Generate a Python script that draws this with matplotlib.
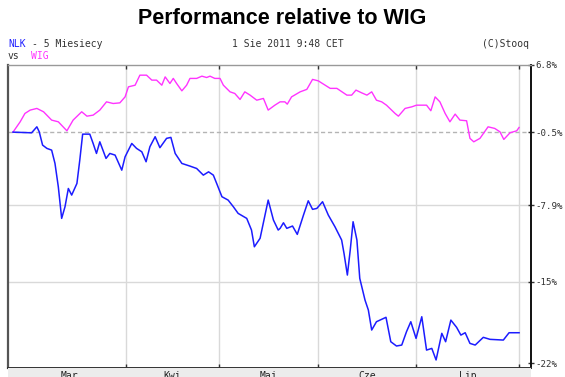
import numpy as np
import matplotlib.pyplot as plt

# relative performance (%) vs trading day since start of window
wig_day = [0.0, 1.5, 2.5, 3.6, 5.0, 6.4, 8.1, 9.5, 11.3, 12.6,
           14.4, 15.5, 16.8, 18.2, 19.6, 21.0, 22.4, 23.5, 24.2, 25.6,
           26.6, 28.0, 29.1, 30.1, 31.2, 31.9, 32.9, 33.6, 34.3, 35.4,
           36.4, 37.1, 38.5, 39.6, 40.6, 41.3, 42.3, 43.4, 44.1, 45.5,
           46.5, 47.6, 48.6, 49.7, 51.1, 52.5, 53.5, 54.9, 56.0, 57.0,
           57.5, 58.4, 60.2, 61.6, 62.8, 64.0, 66.5, 67.9, 70.0, 71.0,
           71.9, 73.1, 74.2, 75.2, 76.2, 77.3, 78.3, 80.1, 80.8, 82.2,
           83.6, 84.6, 86.7, 87.6, 88.5, 89.5, 90.6, 91.6, 92.7, 93.7,
           95.1, 95.8, 96.6, 97.9, 99.6, 101.0, 102.1, 102.9, 104.2, 105.6,
           106.1]
wig_rel = [-0.5, 0.59, 1.48, 1.84, 2.02, 1.66, 0.77, 0.59, -0.36, 0.77,
           1.66, 1.19, 1.30, 1.84, 2.73, 2.55, 2.62, 3.27, 4.37, 4.55,
           5.66, 5.66, 5.11, 5.11, 4.55, 5.47, 4.74, 5.30, 4.74, 3.93,
           4.55, 5.30, 5.30, 5.55, 5.40, 5.55, 5.30, 5.30, 4.55, 3.82,
           3.64, 2.99, 3.82, 3.46, 2.91, 3.10, 1.84, 2.37, 2.73, 2.73,
           2.48, 3.27, 3.82, 4.09, 5.19, 5.03, 4.20, 4.20, 3.46, 3.46,
           4.01, 3.71, 3.46, 3.82, 2.91, 2.73, 2.37, 1.48, 1.19, 2.02,
           2.19, 2.37, 2.37, 1.77, 3.27, 2.73, 1.48, 0.59, 1.41, 0.77,
           0.70, -1.15, -1.51, -1.15, 0.06, -0.11, -0.47, -1.26, -0.57, -0.36,
           -0.01]

nlk_day = [0.0, 3.9, 5.0, 5.5, 6.2, 7.1, 8.1, 8.8, 9.5, 10.2,
           10.9, 11.6, 12.3, 13.4, 14.0, 14.6, 16.1, 16.8, 17.5, 18.2,
           19.5, 20.3, 21.4, 22.8, 23.5, 24.9, 25.9, 27.0, 27.9, 28.7,
           29.8, 30.8, 32.2, 33.1, 34.0, 35.4, 37.1, 38.5, 39.9, 41.0,
           42.0, 42.7, 43.8, 45.1, 46.2, 47.2, 49.0, 50.0, 50.6, 51.8,
           53.5, 54.6, 55.6, 56.0, 56.7, 57.4, 58.6, 59.6, 60.9, 61.9,
           62.8, 63.7, 64.9, 66.1, 67.5, 68.9, 69.4, 70.1, 70.7, 71.3,
           72.1, 72.7, 73.8, 74.5, 75.2, 76.2, 78.2, 79.2, 80.4, 81.5,
           82.5, 83.4, 84.5, 85.7, 86.7, 87.8, 88.7, 89.9, 90.7, 91.8,
           93.0, 93.9, 94.8, 95.8, 96.9, 98.6, 100.0, 102.8, 104.0, 106.1]
nlk_rel = [-0.5, -0.57, 0.06, -0.47, -1.85, -2.19, -2.37, -3.73, -6.08, -9.15,
           -8.03, -6.24, -6.89, -5.74, -3.39, -0.71, -0.71, -1.68, -2.71, -1.51,
           -3.22, -2.71, -2.88, -4.41, -3.05, -1.68, -2.19, -2.54, -3.56, -2.02,
           -0.98, -2.12, -1.15, -1.05, -2.71, -3.73, -4.00, -4.24, -4.91, -4.58,
           -4.91, -5.74, -7.05, -7.38, -8.03, -8.67, -9.15, -10.26, -11.83, -11.04,
           -7.38, -9.31, -10.26, -10.10, -9.57, -10.10, -9.88, -10.67, -8.83, -7.45,
           -8.28, -8.19, -7.54, -8.83, -9.95, -11.20, -12.45, -14.42, -12.14, -9.47,
           -11.20, -14.72, -16.65, -17.52, -19.24, -18.53, -18.15, -20.23, -20.59, -20.51,
           -19.38, -18.53, -19.95, -18.10, -20.93, -20.79, -21.75, -19.52, -20.23, -18.39,
           -19.01, -19.67, -19.47, -20.37, -20.51, -19.86, -20.03, -20.09, -19.47, -19.47]

month_starts = [23.7, 43.2, 63.9, 84.5, 106.1]
month_names = ['Mar', 'Kwi', 'Maj', 'Cze', 'Lip']
y_ticks = [6.8, -0.5, -7.9, -15, -22]
y_labels = ['6.8%', '-0.5%', '-7.9%', '-15%', '-22%']

W, H = 565, 377
MONO = 'DejaVu Sans Mono'
FS = 7.0
x_lim = (-1.05, 108.6)

fig = plt.figure(figsize=(W / 100, H / 100), dpi=100)
fig.patch.set_facecolor('white')

# title and stooq header
fig.text(0.5, 1 - 19 / H, 'Performance relative to WIG', ha='center', va='center',
         fontsize=15.5, fontweight='bold', family='Liberation Sans', color='black')
fig.text(8 / W, 1 - 44 / H, 'NLK', ha='left', va='center', fontsize=FS,
         family=MONO, color='#2020ff')
fig.text(32 / W, 1 - 44 / H, '- 5 Miesiecy', ha='left', va='center', fontsize=FS,
         family=MONO, color='#333333')
fig.text(232 / W, 1 - 44 / H, '1 Sie 2011 9:48 CET', ha='left', va='center',
         fontsize=FS, family=MONO, color='#333333')
fig.text(482 / W, 1 - 44 / H, '(C)Stooq', ha='left', va='center', fontsize=FS,
         family=MONO, color='#333333')
fig.text(8 / W, 1 - 56 / H, 'vs', ha='left', va='center', fontsize=FS,
         family=MONO, color='#333333')
fig.text(31 / W, 1 - 56 / H, 'WIG', ha='left', va='center', fontsize=FS,
         family=MONO, color='#ff33ff')

ax = fig.add_axes([8 / W, 1 - 368 / H, 523 / W, 303 / H])

# log-return scale, the way stooq draws relative charts
ax.set_yscale('function', functions=(lambda p: np.log1p(np.asarray(p) / 100),
                                     lambda l: np.expm1(np.asarray(l)) * 100))

for m in month_starts:
    ax.axvline(m, color='#d9d9d9', lw=1, zorder=0)
for v in (-7.9, -15):
    ax.axhline(v, color='#d9d9d9', lw=1, zorder=0)
ax.axhline(-0.5, color='#b4b4b4', lw=1, ls=(0, (3, 2)), zorder=0)

ax.plot(wig_day, wig_rel, color='#ff33ff', lw=1.0, zorder=3)
ax.plot(nlk_day, nlk_rel, color='#1c1cff', lw=1.1, zorder=4)

ax.set_xlim(*x_lim)
ax.set_ylim(-22.41, 6.78)

ax.set_xticks(month_starts)
ax.set_xticklabels([])
ax.tick_params(axis='x', direction='in', length=3, width=1, color='#333333',
               top=True, bottom=True)
ax.yaxis.tick_right()
ax.set_yticks(y_ticks)
ax.set_yticklabels(y_labels)
ax.minorticks_off()
ax.tick_params(axis='y', direction='inout', length=4, width=1, color='#333333',
               labelsize=6.6, labelcolor='#333333', pad=1)
for lab in ax.get_yticklabels():
    lab.set_family(MONO)

ax.spines['left'].set_color('#555555')
ax.spines['left'].set_linewidth(1.6)
ax.spines['top'].set_color('#999999')
ax.spines['top'].set_linewidth(1.0)
ax.spines['right'].set_color('#111111')
ax.spines['right'].set_linewidth(1.4)
ax.spines['bottom'].set_color('#333333')
ax.spines['bottom'].set_linewidth(1.4)

# month strip under the chart
band = fig.add_axes([8 / W, 0, 523 / W, 9 / H])
band.set_facecolor('#ececec')
band.set_xlim(*x_lim)
band.set_ylim(0, 1)
band.set_xticks([])
band.set_yticks([])
for s in band.spines.values():
    s.set_visible(False)
bounds = [0.0] + month_starts
for name, a, b in zip(month_names, bounds[:-1], bounds[1:]):
    band.text((a + b) / 2, 0.62, name, ha='center', va='top', fontsize=FS,
              family=MONO, color='#222222')

fig.savefig('out.png', dpi=100)
